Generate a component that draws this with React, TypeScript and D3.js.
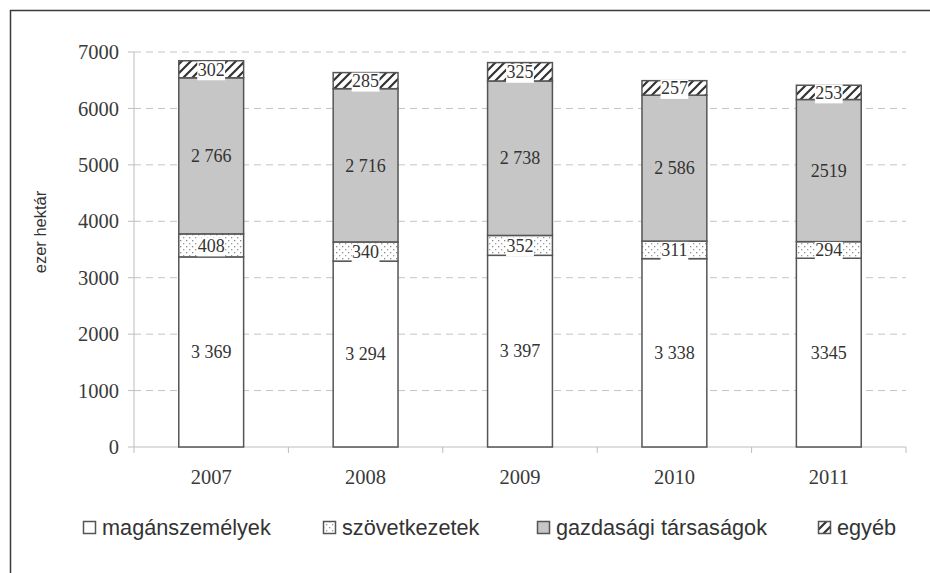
import * as d3 from 'd3';

// values in thousand hectares, by year
const years = ['2007', '2008', '2009', '2010', '2011'];
const maganszemelyek = [3369, 3294, 3397, 3338, 3345];
const szovetkezetek = [408, 340, 352, 311, 294];
const gazdasagi = [2766, 2716, 2738, 2586, 2519];
const egyeb = [302, 285, 325, 257, 253];

// the labels as printed in the source (2011 has no thousand separator)
const maganLabels = ['3 369', '3 294', '3 397', '3 338', '3345'];
const szovLabels = ['408', '340', '352', '311', '294'];
const gazdLabels = ['2 766', '2 716', '2 738', '2 586', '2519'];
const egyebLabels = ['302', '285', '325', '257', '253'];

const seriesNames = ['magánszemélyek', 'szövetkezetek', 'gazdasági társaságok', 'egyéb'];
const yTicks = [0, 1000, 2000, 3000, 4000, 5000, 6000, 7000];
const yTitle = 'ezer hektár';

const W = 930;
const H = 573;
const margin = { top: 52, right: 24, bottom: 126, left: 134 };

const serif = '"Liberation Serif", "Times New Roman", serif';
const sans = '"Liberation Sans", Arial, sans-serif';

const fills = ['#ffffff', 'url(#dots)', '#c6c6c6', 'url(#hatch)'];
const boxedLabel = [false, true, false, true];
const legendX = [83, 323, 537, 818];

export default function App() {
  const keys = ['m', 's', 'g', 'e'];
  const values = [maganszemelyek, szovetkezetek, gazdasagi, egyeb];
  const labels = [maganLabels, szovLabels, gazdLabels, egyebLabels];
  const rows = years.map((year, i) => ({ year, m: values[0][i], s: values[1][i], g: values[2][i], e: values[3][i] }));
  const stacked = d3.stack<any>().keys(keys)(rows);

  const x = d3.scaleBand().domain(years).range([margin.left, W - margin.right]).padding(0);
  const y = d3.scaleLinear().domain([0, 7000]).range([H - margin.bottom, margin.top]);
  const barW = x.bandwidth() * 0.42;
  const x0 = margin.left;
  const x1 = W - margin.right;
  const yBase = y(0);

  return (
    <svg width={W} height={H} style={{ position: 'absolute', left: 0, top: 0 }}>
      <defs>
        <pattern id="dots" width="6" height="6" patternUnits="userSpaceOnUse">
          <rect width="6" height="6" fill="#fff" />
          <rect x="0" y="0" width="1.3" height="1.3" fill="#8a8a8a" />
          <rect x="3" y="3" width="1.3" height="1.3" fill="#9a9a9a" />
        </pattern>
        <pattern id="hatch" width="9" height="9" patternUnits="userSpaceOnUse">
          <rect width="9" height="9" fill="#fff" />
          <path d="M-1,10 L10,-1 M-2,2 L2,-2 M7,11 L11,7" stroke="#333" strokeWidth="2.2" />
        </pattern>
      </defs>
      <rect width={W} height={H} fill="#fff" />
      {/* outer frame */}
      <path d={`M10.5,${H} L10.5,10.5 L${W},10.5`} fill="none" stroke="#3a3a3a" strokeWidth={1.5} />

      {/* grid */}
      {yTicks.filter(t => t > 0).map(t => (
        <line key={t} x1={x0} x2={x1} y1={y(t)} y2={y(t)} stroke="#c4c4c4" strokeDasharray="7,5" />
      ))}

      {/* y axis */}
      <line x1={x0} x2={x0} y1={y(7000)} y2={yBase} stroke="#bdbdbd" />
      {yTicks.map(t => (
        <g key={t}>
          <line x1={x0 - 6} x2={x0} y1={y(t)} y2={y(t)} stroke="#bdbdbd" />
          <text x={x0 - 15} y={y(t)} dy="0.35em" textAnchor="end" fontFamily={serif} fontSize={20.5} fill="#3a3a3a">{t}</text>
        </g>
      ))}
      <text transform={`translate(46,232) rotate(-90)`} textAnchor="middle" fontFamily={sans} fontSize={16.5} fill="#333">{yTitle}</text>

      {/* x axis */}
      <line x1={x0} x2={x1} y1={yBase} y2={yBase} stroke="#bdbdbd" />
      {[...years.map(d => x(d)!), x1].map((v, i) => (
        <line key={i} x1={v} x2={v} y1={yBase} y2={yBase + 6} stroke="#bdbdbd" />
      ))}
      {years.map(d => (
        <text key={d} x={x(d)! + x.bandwidth() / 2} y={484} textAnchor="middle" fontFamily={serif} fontSize={20.5} fill="#3a3a3a">{d}</text>
      ))}

      {/* bars */}
      {stacked.map((s, si) => (
        <g key={s.key}>
          {s.map((seg, i) => {
            const cx = x(years[i])! + x.bandwidth() / 2;
            return (
              <rect key={i} x={cx - barW / 2} width={barW} y={y(seg[1])} height={y(seg[0]) - y(seg[1])}
                fill={fills[si]} stroke="#555" strokeWidth={1.5} />
            );
          })}
        </g>
      ))}

      {/* data labels */}
      {stacked.map((s, si) => (
        <g key={'l' + s.key}>
          {s.map((seg, i) => {
            const cx = x(years[i])! + x.bandwidth() / 2;
            const cy = (y(seg[0]) + y(seg[1])) / 2;
            const txt = labels[si][i];
            const tw = txt.length * 8.6 + 2;
            return (
              <g key={i}>
                {boxedLabel[si] && <rect x={cx - tw / 2} y={cy - 8} width={tw} height={19} fill="#fff" />}
                <text x={cx} y={cy} dy="0.35em" textAnchor="middle" fontFamily={serif} fontSize={18} fill="#333">{txt}</text>
              </g>
            );
          })}
        </g>
      ))}

      {/* legend */}
      {seriesNames.map((name, i) => (
        <g key={name} transform={`translate(${legendX[i]},521)`}>
          <rect x={0.5} y={0.5} width={12} height={12} fill={fills[i]} stroke="#555" strokeWidth={1.5} />
          <text x={19} y={13.5} fontFamily={sans} fontSize={21.7} fill="#333">{name}</text>
        </g>
      ))}
    </svg>
  );
}
